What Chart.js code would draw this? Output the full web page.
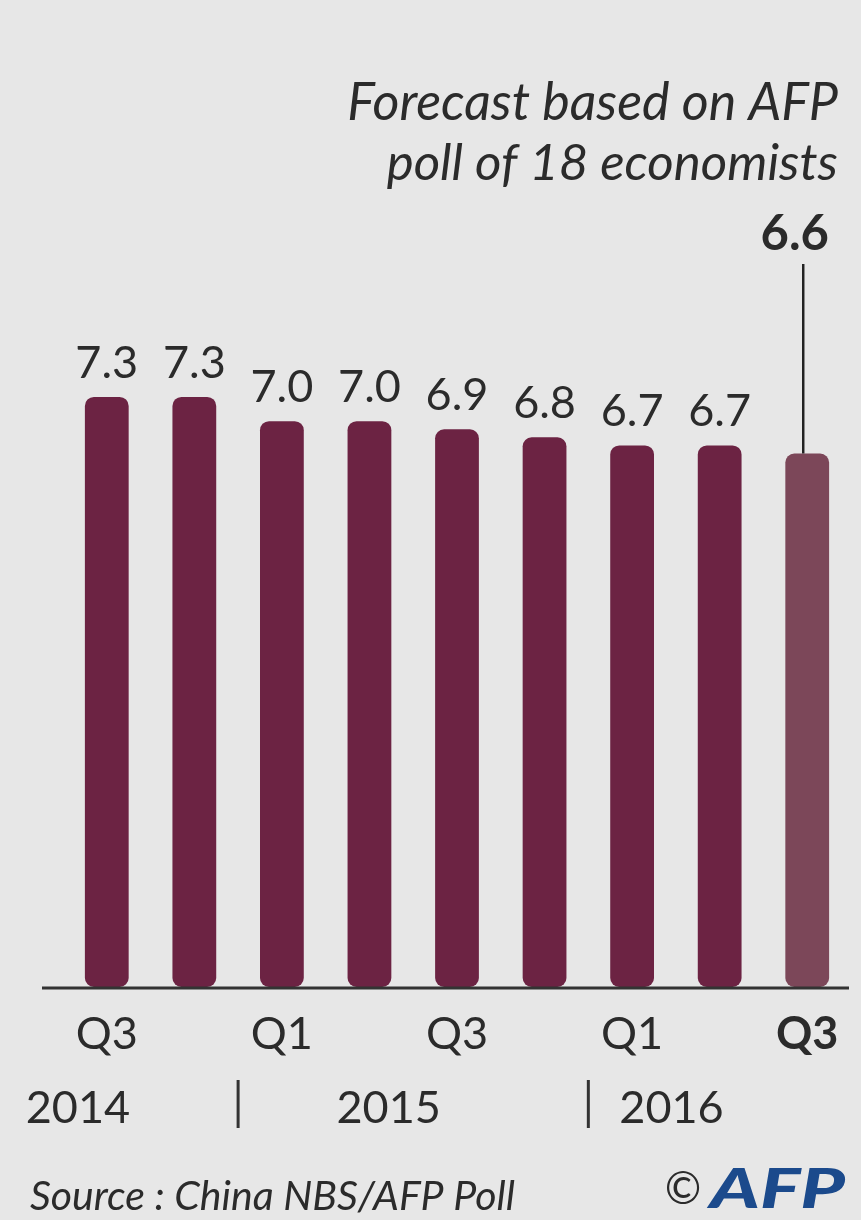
<!DOCTYPE html>
<html>
<head>
<meta charset="utf-8">
<script src="https://cdn.jsdelivr.net/npm/chart.js@4"></script>
<style>
  html, body { margin: 0; padding: 0; background: #e7e7e7; }
  #wrap { width: 861px; height: 1220px; }
</style>
</head>
<body>
<div id="wrap"><canvas id="myChart" width="861" height="1220"></canvas></div>
<script>
// quarterly GDP growth, % year-on-year
const categories = ["2014 Q3", "2014 Q4", "2015 Q1", "2015 Q2", "2015 Q3", "2015 Q4", "2016 Q1", "2016 Q2", "2016 Q3"];
const quarterLabels = ["Q3", "Q4", "Q1", "Q2", "Q3", "Q4", "Q1", "Q2", "Q3"];
const growth = [7.3, 7.3, 7.0, 7.0, 6.9, 6.8, 6.7, 6.7, 6.6];
const yearLabels = ["2014", "2015", "2016"];
const forecastIndex = 8;

const barColor = "#6c2343";
const forecastColor = "#7c4759";
const textColor = "#2b2b2b";

// labels above bars, forecast note, year row, source
const extrasPlugin = {
    id: "extras",
    afterDatasetsDraw(chart) {
        const c = chart.ctx;
        const xs = chart.scales.x;
        const ys = chart.scales.y;
        const area = chart.chartArea;
        const bars = chart.getDatasetMeta(0).data;
        c.save();
        c.fillStyle = textColor;
        c.textAlign = "center";
        c.textBaseline = "alphabetic";
        c.font = "45px Lato";
        bars.forEach((bar, i) => {
            if (i === forecastIndex) return;
            c.fillText(growth[i].toFixed(1), bar.x, bar.y - 19);
        });

        // forecast value + leader line
        const fb = bars[forecastIndex];
        c.textAlign = "right";
        c.font = "bold 49px Lato";
        c.fillText(growth[forecastIndex].toFixed(1), area.right - 22, 250);
        c.strokeStyle = "#222";
        c.lineWidth = 2.5;
        c.beginPath();
        c.moveTo(fb.x - 4, 264);
        c.lineTo(fb.x - 4, fb.y);
        c.stroke();

        c.font = "italic 52px Lato";
        c.fillText("Forecast based on AFP", 838, 120);
        c.font = "italic 51px Lato";
        c.fillText("poll of 18 economists", 838, 180);

        // baseline
        const y0 = ys.getPixelForValue(0);
        c.strokeStyle = "#333";
        c.lineWidth = 3;
        c.beginPath();
        c.moveTo(area.left - 21, y0 + 1);
        c.lineTo(area.right - 2, y0 + 1);
        c.stroke();

        // year row
        c.font = "45px Lato";
        c.textAlign = "center";
        const yearPos = [-0.33, 3.22, 6.45];
        yearLabels.forEach((y, i) => {
            c.fillText(y, xs.getPixelForValue(yearPos[i]), 1123);
        });
        [1.5, 5.5].forEach(p => {
            const x = xs.getPixelForValue(p);
            c.beginPath();
            c.moveTo(x, 1080);
            c.lineTo(x, 1128);
            c.stroke();
        });

        // source + logo
        c.textAlign = "left";
        c.font = "italic 41px Lato";
        c.fillText("Source : China NBS/AFP Poll", 30, 1210);
        c.textAlign = "center";
        c.font = "44px Lato";
        c.fillText("\u00A9", 683, 1204);
        c.font = "italic 900 56px Lato";
        const w = c.measureText("AFP").width;
        c.translate(710, 1208);
        c.scale(135 / w, 1);
        c.textAlign = "left";
        c.fillStyle = "#1b4a8c";
        c.fillText("AFP", 0, 0);
        c.restore();
    }
};

const ctx = document.getElementById("myChart");
const myChart = new Chart(ctx, {
    type: "bar",
    data: {
        labels: categories,
        datasets: [{
            data: growth,
            backgroundColor: growth.map((v, i) => i === forecastIndex ? forecastColor : barColor),
            borderRadius: 9,
            borderSkipped: false,
            barPercentage: 0.5,
            categoryPercentage: 1.0
        }]
    },
    options: {
        responsive: false,
        animation: false,
        devicePixelRatio: 1,
        layout: { padding: { top: 17, left: 63, right: 10, bottom: 0 } },
        plugins: { legend: { display: false }, tooltip: { enabled: false } },
        scales: {
            y: { display: false, min: 0, max: 12 },
            x: {
                grid: { display: false },
                border: { display: false },
                afterFit(scale) { scale.height = 233; },
                ticks: {
                    autoSkip: false,
                    maxRotation: 0,
                    padding: 12,
                    color: textColor,
                    font: (c) => ({ family: "Lato", size: 45, weight: c.index === forecastIndex ? "bold" : "normal" }),
                    callback: (v, i) => i % 2 === 0 ? quarterLabels[i] : ""
                }
            }
        }
    },
    plugins: [extrasPlugin]
});
</script>
</body>
</html>
